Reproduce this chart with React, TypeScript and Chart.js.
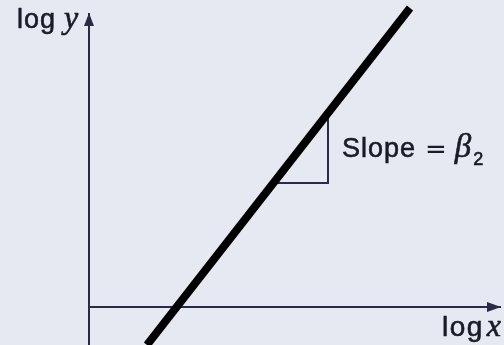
import React, { useEffect, useRef } from "react";
import { Chart, registerables } from "chart.js";

Chart.register(...registerables);

// log-log relationship: straight line whose slope is the elasticity β2
const lineX = [0.58, 3.21];
const lineY = [-0.38, 2.99];

// slope triangle (run, then rise) under the line
const triX = [1.84, 2.39, 2.39];
const triY = [1.24, 1.24, 1.94];

// axes (log x horizontal, log y vertical)
const xAxisX = [0, 4.12];
const xAxisY = [0, 0];
const yAxisX = [0, 0];
const yAxisY = [-0.4, 2.94];

const axisLabelX = "log";
const axisVarX = "x";
const axisLabelY = "log";
const axisVarY = "y";
const slopeWord = "Slope";
const slopeEq = "=";
const slopeSymbol = "β";
const slopeSub = "2";

const BG = "#e6e9f1";
const AXIS = "#2a2a48";
const INK = "#1a1a28";

const pts = (xs: number[], ys: number[]) => xs.map((x, i) => ({ x, y: ys[i] }));

const SANS = '"Liberation Sans", Arial, Helvetica, sans-serif';
const SERIF = '"Liberation Serif", "Times New Roman", serif';
const MATH = '"DejaVu Sans", sans-serif';

// text with a hairline stroke so it reads a touch heavier
function ink(ctx: CanvasRenderingContext2D, s: string, x: number, y: number, stroke = true) {
  ctx.fillText(s, x, y);
  if (stroke) ctx.strokeText(s, x, y);
  return ctx.measureText(s).width;
}

const decorPlugin = {
  id: "decor",
  beforeDraw(chart: any) {
    const { ctx, width, height } = chart;
    ctx.save();
    ctx.fillStyle = BG;
    ctx.fillRect(0, 0, width, height);
    ctx.restore();
  },
  afterDatasetsDraw(chart: any) {
    const { ctx } = chart;
    const xs = chart.scales.x;
    const ys = chart.scales.y;
    const px = (v: number) => xs.getPixelForValue(v);
    const py = (v: number) => ys.getPixelForValue(v);

    ctx.save();
    ctx.fillStyle = AXIS;
    // arrow head at the right end of the horizontal axis
    const ax = px(xAxisX[1]);
    const ay = py(xAxisY[1]);
    ctx.beginPath();
    ctx.moveTo(ax, ay);
    ctx.lineTo(ax - 14, ay - 5);
    ctx.lineTo(ax - 14, ay + 5);
    ctx.closePath();
    ctx.fill();
    // arrow head at the top of the vertical axis
    const bx = px(yAxisX[1]);
    const by = py(yAxisY[1]);
    ctx.beginPath();
    ctx.moveTo(bx, by);
    ctx.lineTo(bx - 5, by + 13);
    ctx.lineTo(bx + 5, by + 13);
    ctx.closePath();
    ctx.fill();

    ctx.fillStyle = INK;
    ctx.strokeStyle = INK;
    ctx.lineWidth = 0.6;
    ctx.textBaseline = "alphabetic";
    ctx.textAlign = "left";
    const c = ctx as any;

    // "log y" beside the vertical axis
    let x = px(-0.72);
    let y = py(2.79);
    ctx.font = `27px ${SANS}`;
    c.letterSpacing = "1px";
    x += ink(ctx, axisLabelY, x, y) + 8;
    c.letterSpacing = "0px";
    ctx.font = `italic 32px ${SERIF}`;
    ink(ctx, axisVarY, x, y);

    // "log x" under the horizontal axis
    x = px(3.53);
    y = py(-0.29);
    ctx.font = `28px ${SANS}`;
    c.letterSpacing = "1.5px";
    x += ink(ctx, axisLabelX, x, y) + 3;
    c.letterSpacing = "0px";
    ctx.font = `italic 32px ${SERIF}`;
    ink(ctx, axisVarX, x, y);

    // "Slope = β2" next to the triangle
    x = px(2.53);
    y = py(1.5);
    ctx.font = `27px ${SANS}`;
    c.letterSpacing = "1px";
    x += ink(ctx, slopeWord, x, y) + 9;
    c.letterSpacing = "0px";
    ctx.font = `26px ${MATH}`;
    x += ink(ctx, slopeEq, x, y + 1, false) + 8;
    ctx.font = `italic 33px ${SERIF}`;
    x += ink(ctx, slopeSymbol, x, y) + 2;
    ctx.font = `18px ${SANS}`;
    ink(ctx, slopeSub, x, y + 8);
    ctx.restore();
  },
};

export default function App() {
  const ref = useRef<HTMLCanvasElement | null>(null);

  useEffect(() => {
    if (!ref.current) return;
    const chart = new Chart(ref.current, {
      type: "scatter",
      data: {
        datasets: [
          {
            data: pts(lineX, lineY),
            showLine: true,
            borderColor: "#000000",
            borderWidth: 8,
            borderCapStyle: "butt",
            pointRadius: 0,
            order: 0,
          },
          {
            data: pts(triX, triY),
            showLine: true,
            borderColor: AXIS,
            borderWidth: 2,
            pointRadius: 0,
            order: 1,
          },
          {
            data: pts(xAxisX, xAxisY),
            showLine: true,
            borderColor: AXIS,
            borderWidth: 2,
            pointRadius: 0,
            order: 2,
          },
          {
            data: pts(yAxisX, yAxisY),
            showLine: true,
            borderColor: AXIS,
            borderWidth: 2,
            pointRadius: 0,
            order: 2,
          },
        ],
      },
      options: {
        animation: false,
        responsive: false,
        devicePixelRatio: 1,
        layout: { padding: 0 },
        plugins: {
          legend: { display: false },
          tooltip: { enabled: false },
          title: { display: false },
        },
        events: [],
        scales: {
          x: { type: "linear", min: -0.89, max: 4.15, display: false },
          y: { type: "linear", min: -0.38, max: 3.07, display: false },
        },
      },
      plugins: [decorPlugin],
    } as any);
    return () => chart.destroy();
  }, []);

  return (
    <div
      style={{
        position: "absolute",
        left: 0,
        top: 0,
        width: 504,
        height: 345,
        background: BG,
      }}
    >
      <canvas ref={ref} width={504} height={345} />
    </div>
  );
}
